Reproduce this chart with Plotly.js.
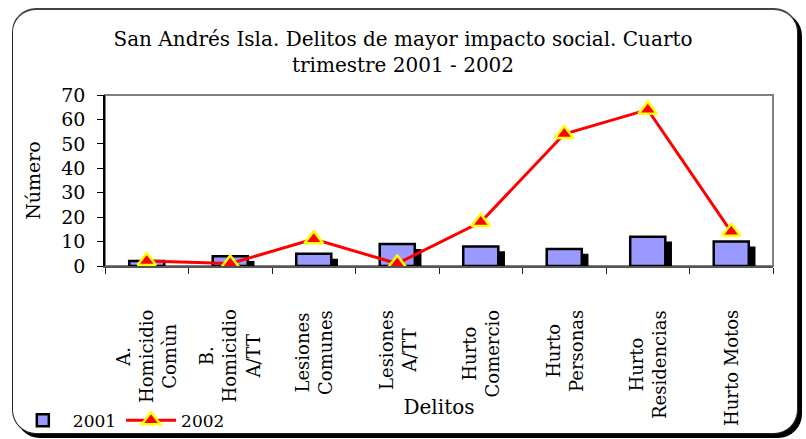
<!DOCTYPE html>
<html>
<head>
<meta charset="utf-8">
<script src="https://cdn.plot.ly/plotly-3.0.1.min.js"></script>
<style>
  html, body { margin: 0; padding: 0; background: #ffffff; }
  #wrap { position: relative; width: 806px; height: 439px; overflow: hidden; }
  #frame { position: absolute; left: 12px; top: 8px; width: 784px; height: 423px;
           border: 1px solid #222; border-top: 2px solid #444; border-radius: 24px; box-shadow: 4px 4px 0 0 #000; background: #fff; }
  #chart { position: absolute; left: 0; top: 0; width: 806px; height: 439px; }
</style>
</head>
<body>
<div id="wrap">
  <div id="frame"></div>
  <div id="chart"></div>
</div>
<script>
// ---- data ----
const categories = ['A. Homicidio Comùn', 'B. Homicidio A/TT', 'Lesiones Comunes', 'Lesiones A/TT',
                    'Hurto Comercio', 'Hurto Personas', 'Hurto Residencias', 'Hurto Motos'];
const tickLabels = ['A.<br>Homicidio<br>Comùn', 'B.<br>Homicidio<br>A/TT', 'Lesiones<br>Comunes', 'Lesiones<br>A/TT',
                    'Hurto<br>Comercio', 'Hurto<br>Personas', 'Hurto<br>Residencias', 'Hurto Motos'];
const values2001 = [2, 4, 5, 9, 8, 7, 12, 10];
const values2002 = [2, 1, 11, 1, 18, 54, 64, 14];
const seriesNames = ['2001', '2002'];
const yTickValues = [0, 10, 20, 30, 40, 50, 60, 70];

// ---- style ----
const FONT = 'DejaVu Serif, Liberation Serif, serif';
const barW = 0.42;
const shadowShift = 0.08;
const shadowDrop = 2;

const shadowTrace = {
  type: 'bar', x: categories, y: values2001.map(v => Math.max(0, v - shadowDrop)),
  width: barW, offset: -barW / 2 + shadowShift,
  marker: { color: '#000000', line: { width: 0 } },
  showlegend: false, hoverinfo: 'skip'
};
const barTrace = {
  type: 'bar', name: seriesNames[0], x: categories, y: values2001,
  width: barW, offset: -barW / 2,
  marker: { color: '#9999FF', line: { color: '#000000', width: 2.5 } }
};
const lineTrace = {
  type: 'scatter', mode: 'lines+markers', name: seriesNames[1], x: categories, y: values2002,
  line: { color: '#FF0000', width: 3 },
  marker: { symbol: 'triangle-up', size: 16, color: '#FF0000', line: { color: '#FFFF00', width: 2.5 } }
};

const annotations = categories.map((c, i) => ({
  x: c, xref: 'x', y: -0.244, yref: 'paper', text: tickLabels[i], showarrow: false,
  textangle: -90, xanchor: 'center', yanchor: 'top', align: 'center',
  font: { family: FONT, size: 18, color: '#000' }
}));

const layout = {
  width: 806, height: 439,
  paper_bgcolor: 'rgba(0,0,0,0)', plot_bgcolor: '#ffffff',
  margin: { l: 105, r: 33, t: 95, b: 173, autoexpand: false },
  font: { family: FONT, size: 17, color: '#000' },
  title: {
    text: 'San Andrés Isla. Delitos de mayor impacto social. Cuarto<br>trimestre 2001 - 2002',
    font: { family: FONT, size: 20, color: '#000' },
    x: 0.5, xanchor: 'center', yref: 'container', y: 0.895, yanchor: 'middle'
  },
  barmode: 'overlay',
  showlegend: true,
  legend: {
    orientation: 'h', x: -0.138, xanchor: 'left', y: -0.905, yanchor: 'middle',
    itemwidth: 50,
    font: { family: FONT, size: 17, color: '#000' }, bgcolor: 'rgba(0,0,0,0)', traceorder: 'normal'
  },
  xaxis: {
    type: 'category', range: [-0.5, 7.5], showticklabels: false,
    showline: true, linecolor: '#555', linewidth: 1.5,
    ticks: 'outside', ticklen: 6, tickcolor: '#222', tickson: 'boundaries',
    showgrid: false, zeroline: false, automargin: false,
    title: { text: 'Delitos', font: { family: FONT, size: 20 }, standoff: 133 }
  },
  yaxis: {
    range: [0, 70], tickvals: yTickValues, ticks: 'outside', ticklen: 6, tickcolor: '#000',
    ticklabelstandoff: 8,
    showline: true, linecolor: '#000', linewidth: 1.5,
    showgrid: false, zeroline: false, automargin: false,
    tickfont: { family: FONT, size: 19 },
    title: { text: 'Número', font: { family: FONT, size: 19 }, standoff: 16 }
  },
  shapes: [{
    type: 'rect', xref: 'paper', yref: 'paper', x0: 0, x1: 1, y0: 0, y1: 1,
    line: { color: '#808080', width: 2 }, layer: 'below'
  }],
  annotations: annotations
};

Plotly.newPlot('chart', [shadowTrace, barTrace, lineTrace], layout, { displayModeBar: false, responsive: false });
</script>
</body>
</html>
